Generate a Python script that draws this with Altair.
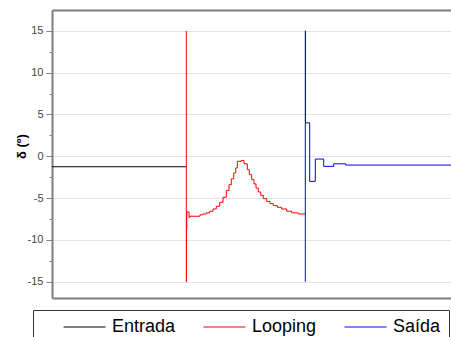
import altair as alt
import pandas as pd

series_names = ["Entrada", "Looping", "Saída"]
series_colors = ["#000000", "#ff0000", "#0000ff"]

entrada_t = [0, 134.3]
entrada_v = [-1.25, -1.25]

looping_t = [134.3, 134.3, 134.5, 134.8, 137.0, 138.0, 148.0, 151.0, 154.3, 157.7,
             161.0, 164.3, 167.7, 171.0, 174.3, 177.0, 179.3, 181.7, 183.7, 185.3,
             189.3, 192.0, 195.3, 197.3, 199.7, 202.0, 204.0, 206.3, 208.7, 211.3,
             214.7, 218.0, 221.3, 225.3, 229.7, 234.7, 239.7, 246.3, 253.3]
looping_v = [15, -15, -8.7, -6.65, -7.3, -7.17, -7.0, -6.9, -6.77, -6.57,
             -6.3, -5.98, -5.5, -4.9, -4.1, -3.4, -2.7, -2.0, -1.4, -0.6,
             -0.5, -0.9, -1.6, -2.2, -2.8, -3.3, -3.8, -4.27, -4.67, -5.07,
             -5.4, -5.66, -5.9, -6.1, -6.3, -6.57, -6.77, -6.9, -6.9]

saida_t = [253.3, 253.3, 253.5, 257.7, 263.3, 271.7, 281.7, 293.7, 400]
saida_v = [-15, 15, 4.0, -3.0, -0.33, -1.2, -0.9, -1.05, -1.05]

y_ticks = [-15, -12.5, -10, -7.5, -5, -2.5, 0, 2.5, 5, 7.5, 10, 12.5, 15]
y_domain = [-16.95, 17.5]
x_domain = [0, 399]

rows = []
for name, ts, vs in zip(series_names, [entrada_t, looping_t, saida_t],
                        [entrada_v, looping_v, saida_v]):
    for i, (t, v) in enumerate(zip(ts, vs)):
        rows.append({"serie": name, "t": t, "v": v, "ordem": i})
df = pd.DataFrame(rows)

FONT = "Liberation Sans"
GRAY = "#7f7f7f"

base = alt.Chart(df)

main = base.mark_line(interpolate="step-after", strokeWidth=1, clip=True).encode(
    x=alt.X("t:Q", scale=alt.Scale(domain=x_domain, nice=False, zero=False),
            axis=alt.Axis(orient="bottom", labels=False, ticks=False, grid=False,
                          domain=True, domainColor=GRAY, domainWidth=2, title=None)),
    y=alt.Y("v:Q", scale=alt.Scale(domain=y_domain, nice=False, zero=False),
            axis=alt.Axis(
                values=y_ticks,
                labelExpr="datum.value % 5 == 0 ? '' + datum.value : ''",
                grid=True,
                gridColor={"condition": {"test": "datum.value % 5 != 0", "value": "transparent"},
                           "value": "#e4e4e4"},
                gridWidth=1,
                tickColor=GRAY,
                tickSize={"condition": {"test": "datum.value % 5 != 0", "value": 3},
                          "value": 6},
                tickWidth=1,
                domainColor=GRAY, domainWidth=2,
                labelFont=FONT, labelFontSize=11, labelColor="#444444",
                labelPadding=3,
                title="δ (º)", titleFont=FONT, titleFontSize=13, titleFontWeight="bold",
                titleColor="#000000", titleX=-24, titleY=136)),
    color=alt.Color("serie:N",
                    scale=alt.Scale(domain=series_names, range=series_colors),
                    legend=alt.Legend(
                        orient="none", legendX=-19, legendY=300,
                        direction="horizontal", title=None,
                        strokeColor="#333333", padding=8, cornerRadius=0,
                        symbolType="stroke", symbolSize=1764, symbolStrokeWidth=1,
                        clipHeight=18, symbolOffset=22,
                        labelFont=FONT, labelFontSize=18, labelColor="#000000",
                        labelOffset=6, columnPadding=5)),
    order="ordem:Q",
    detail="serie:N",
)

top = base.mark_line(opacity=0).encode(
    x=alt.X("t:Q", scale=alt.Scale(domain=x_domain, nice=False, zero=False),
            axis=alt.Axis(orient="top", labels=False, ticks=False, grid=False,
                          domain=True, domainColor=GRAY, domainWidth=2, title=None)),
    detail="serie:N",
)

chart = alt.layer(main, top).resolve_axis(x="independent").properties(
    width=399, height=288,
    autosize=alt.AutoSizeParams(type="none"),
    padding={"left": 52, "top": 10, "right": 0, "bottom": 39},
).configure_view(stroke=None).configure(background="white")

chart.save("out.html", embed_options={"renderer": "svg", "actions": False})
